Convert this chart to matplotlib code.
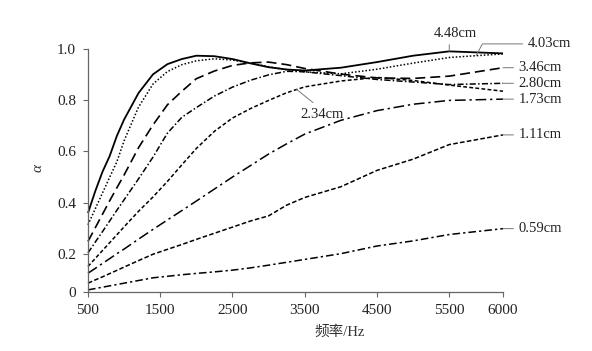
import numpy as np
import matplotlib
matplotlib.use("Agg")
import matplotlib.pyplot as plt

plt.rcParams["font.family"] = ["Liberation Serif", "Noto Sans CJK SC"]

# frequency grid (Hz) shared by all curves
freq = [500, 600, 700, 800, 900, 1000, 1200, 1400, 1600, 1800, 2000,
        2250, 2500, 2750, 3000, 3250, 3500, 4000, 4500, 5000, 5500, 6000]

# absorption coefficient per thickness
a_448 = [0.359, 0.444, 0.520, 0.582, 0.661, 0.725, 0.829, 0.902, 0.942, 0.962, 0.975,
         0.973, 0.962, 0.945, 0.930, 0.921, 0.917, 0.928, 0.950, 0.975, 0.992, 0.984]
a_403 = [0.313, 0.375, 0.437, 0.499, 0.560, 0.642, 0.774, 0.864, 0.913, 0.940, 0.955,
         0.963, 0.958, 0.946, 0.932, 0.920, 0.912, 0.904, 0.922, 0.946, 0.968, 0.982]
a_346 = [0.248, 0.301, 0.354, 0.407, 0.458, 0.508, 0.615, 0.704, 0.783, 0.836, 0.885,
         0.915, 0.937, 0.947, 0.950, 0.940, 0.925, 0.903, 0.888, 0.886, 0.895, 0.928]
a_280 = [0.203, 0.245, 0.286, 0.328, 0.370, 0.411, 0.493, 0.578, 0.672, 0.734, 0.772,
         0.817, 0.852, 0.879, 0.900, 0.914, 0.912, 0.897, 0.882, 0.872, 0.862, 0.867]
a_234 = [0.133, 0.175, 0.212, 0.243, 0.274, 0.305, 0.366, 0.422, 0.483, 0.548, 0.612,
         0.679, 0.731, 0.768, 0.800, 0.830, 0.853, 0.876, 0.890, 0.878, 0.860, 0.836]
a_173 = [0.098, 0.123, 0.149, 0.174, 0.200, 0.218, 0.257, 0.295, 0.332, 0.369, 0.406,
         0.453, 0.500, 0.545, 0.590, 0.630, 0.668, 0.722, 0.760, 0.785, 0.800, 0.805]
a_111 = [0.046, 0.063, 0.079, 0.096, 0.113, 0.130, 0.164, 0.197, 0.217, 0.236, 0.256,
         0.280, 0.304, 0.328, 0.348, 0.390, 0.420, 0.462, 0.526, 0.570, 0.627, 0.665]
a_059 = [0.011, 0.018, 0.025, 0.032, 0.039, 0.046, 0.060, 0.074, 0.082, 0.090, 0.097,
         0.105, 0.114, 0.126, 0.140, 0.155, 0.170, 0.200, 0.230, 0.250, 0.275, 0.298]

labels = ["4.48cm", "4.03cm", "3.46cm", "2.80cm", "2.34cm", "1.73cm", "1.11cm", "0.59cm"]
series = [a_448, a_403, a_346, a_280, a_234, a_173, a_111, a_059]

x_ticks = [500, 1500, 2500, 3500, 4500, 5500, 6000]
y_ticks = [0, 0.2, 0.4, 0.6, 0.8, 1.0]
y_ticklabels = ["0", "0.2", "0.4", "0.6", "0.8", "1.0"]

styles = [
    dict(ls="-", lw=1.3),
    dict(ls=(0, (1, 1.3)), lw=1.1),
    dict(ls=(0, (6, 3)), lw=1.2),
    dict(ls=(0, (4, 1.5, 1, 1.5)), lw=1.1),
    dict(ls=(0, (2.5, 1.5)), lw=1.1),
    dict(ls=(0, (7, 2.5, 1.5, 2.5)), lw=1.1),
    dict(ls=(0, (3, 1.5)), lw=1.1),
    dict(ls=(0, (5, 2, 1.5, 2)), lw=1.1),
]


# the original axes stretch the last x interval and squeeze the first y interval
def fx(x):
    x = np.asarray(x, dtype=float)
    return np.where(x <= 5500, x, 5500 + (x - 5500) * 1.49)


def fx_inv(x):
    x = np.asarray(x, dtype=float)
    return np.where(x <= 5500, x, 5500 + (x - 5500) / 1.49)


def fy(y):
    y = np.asarray(y, dtype=float)
    return np.where(y >= 0.2, y, 0.2 - (0.2 - y) * 0.75)


def fy_inv(y):
    y = np.asarray(y, dtype=float)
    return np.where(y >= 0.2, y, 0.2 - (0.2 - y) / 0.75)


fig = plt.figure(figsize=(5.92, 3.51), dpi=100)
ax = fig.add_axes([0.1486, 0.1681, 0.7011, 0.6914])
ax.set_xscale("function", functions=(fx, fx_inv))
ax.set_yscale("function", functions=(fy, fy_inv))

for vals, st in zip(series, styles):
    ax.plot(freq, vals, color="black", linestyle=st["ls"], lw=st["lw"],
            clip_on=False, solid_capstyle="butt")

ax.set_xlim(500, 6000)
ax.set_ylim(0, 1.0)
ax.set_xticks(x_ticks)
ax.set_xticklabels([str(t) for t in x_ticks])
ax.set_yticks(y_ticks)
ax.set_yticklabels(y_ticklabels)
ax.minorticks_off()

for s in ["top", "right"]:
    ax.spines[s].set_visible(False)
for s in ["left", "bottom"]:
    ax.spines[s].set_color("#666666")
    ax.spines[s].set_linewidth(0.9)
ax.tick_params(direction="out", length=3.5, width=0.8, color="#666666",
               labelsize=11, labelcolor="#222222", pad=5)

ax.set_xlabel("频率/Hz", fontsize=10.5, color="#333333")
ax.xaxis.set_label_coords(0.607, -0.135)
ax.set_ylabel("α", fontsize=11, style="italic", color="#333333")
ax.yaxis.set_label_coords(-0.105, 0.51)

lead = dict(arrowstyle="-", color="#777777", lw=0.7, shrinkA=1.5, shrinkB=0)
txt = dict(fontsize=10.5, color="#222222", annotation_clip=False)

# labels at the right end of the curves
for name, vals in zip(labels, series):
    if name in ("4.48cm", "4.03cm", "2.34cm"):
        continue
    ax.annotate(name, xy=(freq[-1], vals[-1]), xytext=(11, 0),
                textcoords="offset points", ha="left", va="center",
                arrowprops=lead, **txt)

# 4.03cm: leader from the dotted curve near 5750 Hz
ax.annotate("4.03cm", xy=(5750, np.interp(5750, freq, a_403)), xytext=(37, 8.5),
            textcoords="offset points", ha="left", va="center",
            arrowprops=dict(lead, connectionstyle="angle,angleA=0,angleB=62"), **txt)

# 4.48cm: label above the solid curve
ax.annotate("4.48cm", xy=(5500, np.interp(5500, freq, a_448)), xytext=(4.5, 13),
            textcoords="offset points", ha="center", va="center",
            arrowprops=dict(lead, relpos=(0.36, 0.0)), **txt)

# 2.34cm: label below the middle of the curve
ax.annotate("2.34cm", xy=(3390, np.interp(3390, freq, a_234)), xytext=(18, -18),
            textcoords="offset points", ha="center", va="center",
            arrowprops=dict(lead, relpos=(0.45, 1.0), shrinkA=3), **txt)

fig.savefig("out.png", dpi=100)
